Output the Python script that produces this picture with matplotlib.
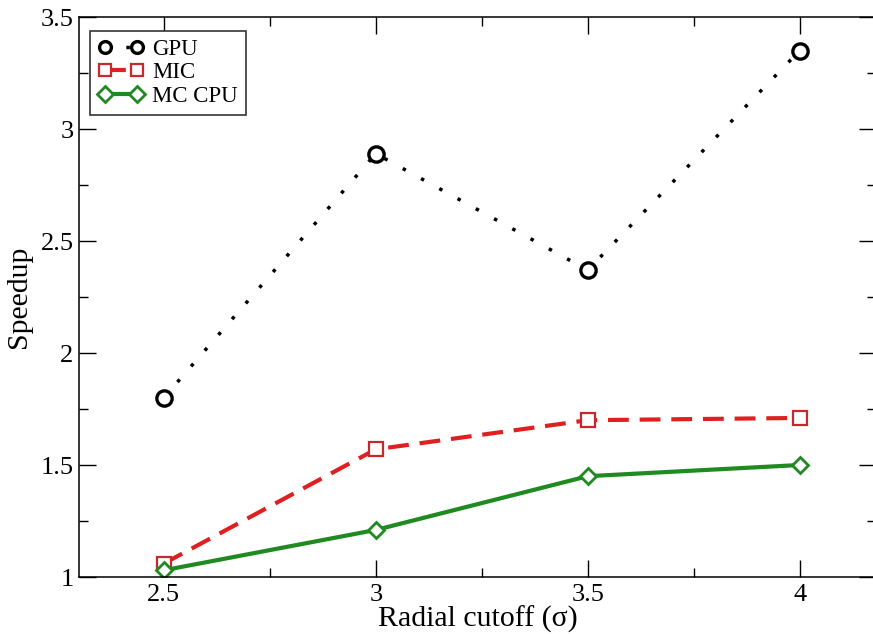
import matplotlib
matplotlib.use("Agg")
import matplotlib.pyplot as plt
from matplotlib.ticker import MultipleLocator, FuncFormatter

# Dados
cutoff = [2.5, 3.0, 3.5, 4.0]
gpu = [1.80, 2.89, 2.37, 3.35]
mic = [1.06, 1.57, 1.70, 1.71]
mc_cpu = [1.03, 1.21, 1.45, 1.50]

plt.rcParams["font.family"] = ["Liberation Serif", "DejaVu Serif"]

fig = plt.figure(figsize=(8.73, 6.34), dpi=100)
ax = fig.add_axes([79 / 873, 57 / 634, 797 / 873, 560 / 634])

ax.plot(cutoff, gpu, color="black", linestyle=(0, (1, 5)), linewidth=2.5,
        dash_capstyle="butt", marker="o", markersize=11, markeredgewidth=2.4,
        markerfacecolor="white", markeredgecolor="black", label="GPU")
ax.plot(cutoff, mic, color="#e02020", linestyle=(0, (5, 2.6)), linewidth=3,
        dash_capstyle="butt", marker="s", markersize=9.5, markeredgewidth=1.6,
        markerfacecolor="white", markeredgecolor="#c8282d", label="MIC")
ax.plot(cutoff, mc_cpu, color="#1f8a1f", linestyle="-", linewidth=3,
        marker="D", markersize=8.5, markeredgewidth=2,
        markerfacecolor="white", markeredgecolor="#1f8a1f", label="MC CPU")

ax.set_xlim(2.3, 4.18)
ax.set_ylim(1, 3.5)

ax.xaxis.set_major_locator(MultipleLocator(0.5))
ax.xaxis.set_minor_locator(MultipleLocator(0.25))
ax.yaxis.set_major_locator(MultipleLocator(0.5))
ax.yaxis.set_minor_locator(MultipleLocator(0.25))
fmt = FuncFormatter(lambda v, p: "%g" % v)
ax.xaxis.set_major_formatter(fmt)
ax.yaxis.set_major_formatter(fmt)

ax.tick_params(which="both", direction="in", top=True, right=True, width=1)
ax.tick_params(which="major", length=12, labelsize=19)
ax.tick_params(axis="x", which="major", pad=5)
ax.tick_params(axis="y", which="major", pad=4)
ax.tick_params(which="minor", length=6.5)
for s in ax.spines.values():
    s.set_linewidth(1.1)

ax.set_xlabel("Radial cutoff (σ)", fontsize=21.5, labelpad=0)
ax.set_ylabel("Speedup", fontsize=21.5, labelpad=6)

leg = ax.legend(loc="upper left", bbox_to_anchor=(11 / 797, 1 - 14 / 560), numpoints=2,
                fontsize=16.5, fancybox=False, edgecolor="#333333", framealpha=1,
                handlelength=2.0, handletextpad=0.35, borderpad=0.35,
                labelspacing=0.1, borderaxespad=0)
leg.get_frame().set_linewidth(1.2)
for h in leg.legend_handles:
    h.set_markersize(8.5)

fig.savefig("out.png", dpi=100)
